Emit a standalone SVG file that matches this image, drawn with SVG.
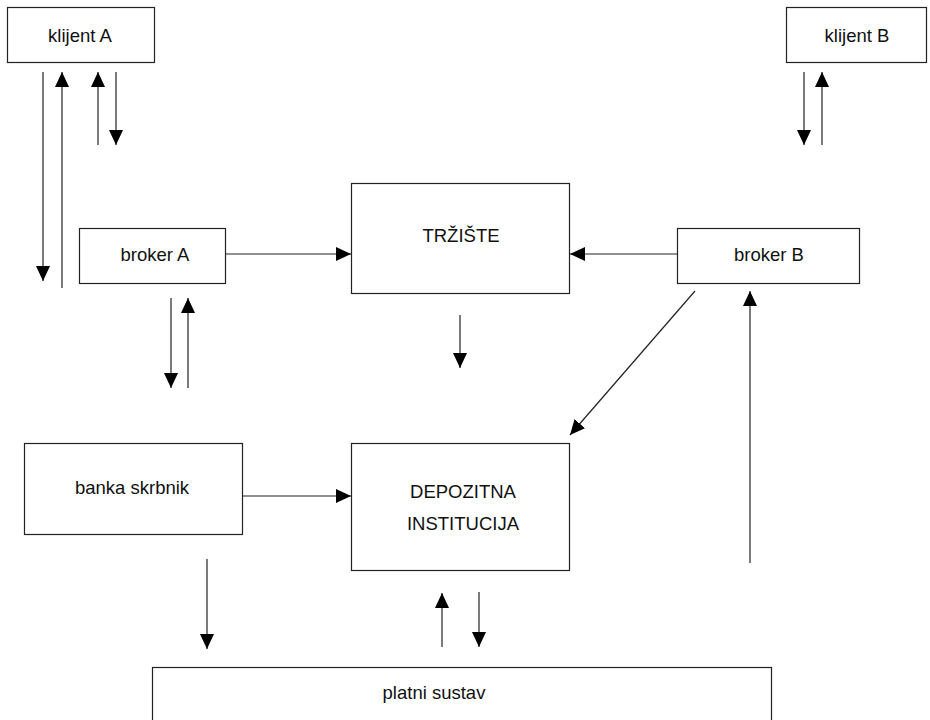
<svg xmlns="http://www.w3.org/2000/svg" width="930" height="720" viewBox="0 0 930 720">
<style>
.box{fill:#fff;stroke:#222;stroke-width:1.2}
.t{font-family:"Liberation Sans",Arial,sans-serif;font-size:18.5px;fill:#111;text-anchor:middle}
.c{stroke:#222;stroke-width:1.2;fill:none;marker-end:url(#ah)}
</style>
<defs>
<marker id="ah" markerWidth="16" markerHeight="14" refX="15" refY="7" orient="auto" markerUnits="userSpaceOnUse">
<path d="M0,0 L15,7 L0,14 Z" fill="#000"/>
</marker>
</defs>
<rect width="930" height="720" fill="#fff"/>
<g id="klijentA"><rect class="box" x="7.5" y="7.5" width="147" height="55"/><text class="t" x="80" y="41.5">klijent A</text></g>
<g id="klijentB"><rect class="box" x="786.5" y="7.5" width="140" height="55"/><text class="t" x="857" y="41.5">klijent B</text></g>
<g id="trziste"><rect class="box" x="351.5" y="183.5" width="218" height="110"/><text class="t" x="461" y="242">TRŽIŠTE</text></g>
<g id="brokerA"><rect class="box" x="79.5" y="228.5" width="146" height="55"/><text class="t" x="155" y="261">broker A</text></g>
<g id="brokerB"><rect class="box" x="677.5" y="228.5" width="182" height="55"/><text class="t" x="769" y="261">broker B</text></g>
<g id="banka"><rect class="box" x="24.5" y="443.5" width="218" height="91"/><text class="t" x="132" y="493.5">banka skrbnik</text></g>
<g id="depozitna"><rect class="box" x="351.5" y="443.5" width="218" height="127"/><text class="t" x="463" y="497.5">DEPOZITNA</text><text class="t" x="463" y="529.5">INSTITUCIJA</text></g>
<g id="platni"><rect class="box" x="152.5" y="667.5" width="619" height="70"/><text class="t" x="434" y="699">platni sustav</text></g>
<g id="connectors">
<line class="c" x1="43" y1="72" x2="43" y2="281"/>
<line class="c" x1="62" y1="288" x2="62" y2="72"/>
<line class="c" x1="98" y1="145" x2="98" y2="72"/>
<line class="c" x1="116" y1="72" x2="116" y2="145"/>
<line class="c" x1="804" y1="72" x2="804" y2="145"/>
<line class="c" x1="822" y1="145" x2="822" y2="72"/>
<line class="c" x1="226" y1="254" x2="351" y2="254"/>
<line class="c" x1="677" y1="254" x2="570" y2="254"/>
<line class="c" x1="460" y1="315" x2="460" y2="368"/>
<line class="c" x1="171" y1="298" x2="171" y2="388"/>
<line class="c" x1="188" y1="388" x2="188" y2="298"/>
<line class="c" x1="695" y1="291" x2="570" y2="435"/>
<line class="c" x1="750" y1="563" x2="750" y2="291"/>
<line class="c" x1="243" y1="496" x2="351" y2="496"/>
<line class="c" x1="207" y1="559" x2="207" y2="649"/>
<line class="c" x1="442" y1="647" x2="442" y2="593"/>
<line class="c" x1="479" y1="592" x2="479" y2="647"/>
</g>
</svg>
